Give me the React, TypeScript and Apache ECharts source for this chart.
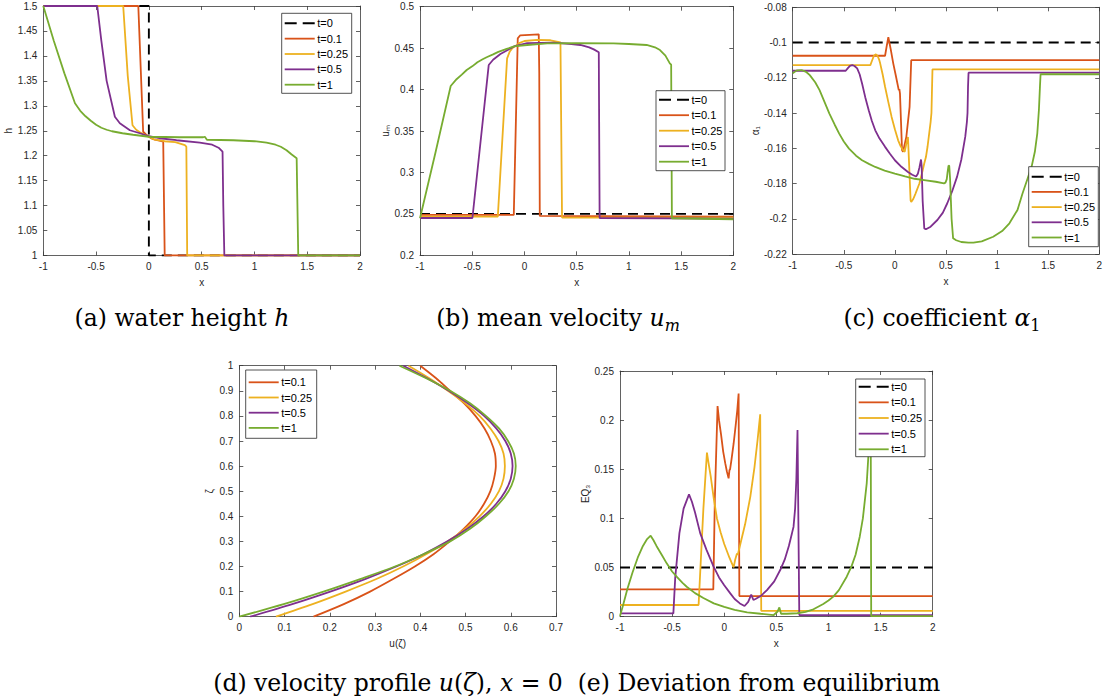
import { useEffect, useRef } from "react";
import * as echarts from "echarts";

// ---------- series names / colours ----------
const COLORS: Record<string, string> = {
  "t=0": "#000000",
  "t=0.1": "#D95319",
  "t=0.25": "#EDB120",
  "t=0.5": "#7E2F8E",
  "t=1": "#77AC30",
};

// ---------- (a) water height h ----------
const H_T0 = [[-1, 1.5], [0, 1.5], [0, 1], [2, 1]];
const H_T01 = [[-1, 1.5], [-0.1, 1.5], [-0.054, 1.248], [-0.03, 1.243], [0, 1.238], [0.03, 1.234], [0.057, 1.232], [0.1, 1.23], [0.136, 1.228], [0.15, 1], [2, 1]];
const H_T025 = [[-1, 1.5], [-0.243, 1.5], [-0.2, 1.36], [-0.155, 1.261], [-0.12, 1.252], [-0.085, 1.247], [-0.04, 1.242], [0, 1.238], [0.057, 1.232], [0.15, 1.229], [0.25, 1.227], [0.341, 1.221], [0.355, 1.218], [0.363, 1], [2, 1]];
const H_T05 = [[-1, 1.5], [-0.489, 1.5], [-0.45, 1.43], [-0.4, 1.35], [-0.322, 1.278], [-0.275, 1.265], [-0.18, 1.251], [-0.085, 1.245], [0, 1.239], [0.1, 1.235], [0.262, 1.231], [0.483, 1.226], [0.6, 1.222], [0.66, 1.216], [0.698, 1.208], [0.705, 1.1], [0.715, 1], [2, 1]];
const H_T1 = [[-1, 1.5], [-0.9, 1.43], [-0.8, 1.365], [-0.7, 1.305], [-0.65, 1.29], [-0.6, 1.279], [-0.55, 1.27], [-0.5, 1.262], [-0.45, 1.256], [-0.4, 1.252], [-0.35, 1.249], [-0.3, 1.247], [-0.25, 1.245], [-0.15, 1.242], [0, 1.238], [0.294, 1.237], [0.515, 1.237], [0.53, 1.238], [0.55, 1.232], [0.8, 1.231], [1.0, 1.229], [1.115, 1.226], [1.2, 1.222], [1.25, 1.218], [1.304, 1.211], [1.35, 1.203], [1.4, 1.195], [1.415, 1], [2, 1]];

// ---------- (b) mean velocity u_m ----------
const U_T0 = [[-1, 0.25], [2, 0.25]];
const U_T01 = [[-1, 0.2487], [-0.102, 0.2487], [-0.064, 0.4618], [-0.04, 0.4655], [0.137, 0.4666], [0.142, 0.42], [0.147, 0.2475], [2, 0.2465]];
const U_T025 = [[-1, 0.2467], [-0.255, 0.2467], [-0.166, 0.4377], [-0.14, 0.446], [-0.118, 0.4497], [-0.05, 0.456], [0, 0.4586], [0.121, 0.46], [0.25, 0.4595], [0.345, 0.457], [0.36, 0.2455], [2, 0.2455]];
const U_T05 = [[-1, 0.245], [-0.498, 0.245], [-0.342, 0.4296], [-0.3, 0.436], [-0.23, 0.443], [-0.1, 0.452], [0.026, 0.456], [0.28, 0.4566], [0.45, 0.455], [0.536, 0.4538], [0.62, 0.451], [0.664, 0.4485], [0.712, 0.445], [0.72, 0.245], [2, 0.2443]];
const U_T1 = [[-1, 0.2447], [-0.85, 0.325], [-0.706, 0.4043], [-0.65, 0.4125], [-0.6, 0.418], [-0.553, 0.4236], [-0.5, 0.428], [-0.45, 0.433], [-0.4, 0.4365], [-0.362, 0.439], [-0.3, 0.4425], [-0.25, 0.4455], [-0.17, 0.449], [-0.1, 0.452], [0, 0.4535], [0.217, 0.4558], [0.5, 0.456], [0.853, 0.4558], [1.0, 0.455], [1.17, 0.4538], [1.25, 0.451], [1.298, 0.4477], [1.35, 0.441], [1.392, 0.4316], [1.405, 0.43], [1.412, 0.2447], [2, 0.2435]];

// ---------- (c) coefficient alpha_1 ----------
const A_T0 = [[-1, -0.1], [2, -0.1]];
const A_T01 = [[-1, -0.1075], [-0.096, -0.1075], [-0.08, -0.102], [-0.064, -0.097], [-0.04, -0.104], [-0.016, -0.1118], [0.01, -0.119], [0.038, -0.127], [0.044, -0.1265], [0.05, -0.129], [0.06, -0.145], [0.07, -0.161], [0.08, -0.162], [0.112, -0.1536], [0.144, -0.1365], [0.16, -0.11], [2, -0.11]];
const A_T025 = [[-1, -0.1128], [-0.24, -0.1128], [-0.225, -0.1105], [-0.205, -0.1075], [-0.186, -0.1067], [-0.17, -0.1075], [-0.155, -0.1095], [-0.144, -0.1118], [-0.12, -0.118], [-0.096, -0.1251], [-0.064, -0.1338], [-0.032, -0.1422], [0, -0.1492], [0.032, -0.1555], [0.056, -0.1588], [0.08, -0.1611], [0.096, -0.162], [0.11, -0.158], [0.128, -0.1536], [0.14, -0.17], [0.154, -0.1896], [0.16, -0.1905], [0.18, -0.1888], [0.2, -0.186], [0.24, -0.18], [0.27, -0.173], [0.288, -0.1685], [0.304, -0.165], [0.32, -0.159], [0.336, -0.1515], [0.35, -0.145], [0.358, -0.14], [0.362, -0.13], [0.368, -0.1152], [2, -0.1152]];
const A_T05 = [[-1, -0.116], [-0.481, -0.116], [-0.46, -0.1145], [-0.44, -0.1132], [-0.417, -0.1128], [-0.395, -0.1133], [-0.369, -0.1147], [-0.345, -0.118], [-0.321, -0.1232], [-0.29, -0.131], [-0.256, -0.1384], [-0.225, -0.1445], [-0.192, -0.1498], [-0.15, -0.1545], [-0.096, -0.1592], [-0.05, -0.163], [0, -0.1668], [0.064, -0.1705], [0.128, -0.1735], [0.17, -0.175], [0.208, -0.176], [0.225, -0.1745], [0.24, -0.171], [0.256, -0.1664], [0.262, -0.17], [0.272, -0.19], [0.288, -0.2055], [0.304, -0.206], [0.35, -0.2045], [0.416, -0.2007], [0.47, -0.1965], [0.513, -0.1912], [0.56, -0.1845], [0.609, -0.1761], [0.65, -0.1665], [0.689, -0.1534], [0.705, -0.145], [0.711, -0.14], [0.716, -0.125], [0.721, -0.1171], [2, -0.1171]];
const A_T1 = [[-1, -0.1175], [-0.96, -0.1158], [-0.913, -0.1156], [-0.87, -0.1166], [-0.833, -0.1185], [-0.78, -0.1225], [-0.737, -0.127], [-0.69, -0.1335], [-0.641, -0.1403], [-0.59, -0.1465], [-0.545, -0.1517], [-0.5, -0.1562], [-0.449, -0.1602], [-0.38, -0.1642], [-0.321, -0.1668], [-0.25, -0.169], [-0.192, -0.1706], [-0.1, -0.1727], [0, -0.1744], [0.1, -0.176], [0.192, -0.1773], [0.304, -0.1782], [0.4, -0.179], [0.481, -0.1799], [0.495, -0.1795], [0.508, -0.1775], [0.516, -0.1735], [0.525, -0.1698], [0.532, -0.17], [0.54, -0.177], [0.555, -0.2], [0.57, -0.2111], [0.6, -0.2122], [0.65, -0.2132], [0.72, -0.2136], [0.769, -0.2136], [0.85, -0.2128], [0.962, -0.2102], [1.05, -0.207], [1.121, -0.2026], [1.2, -0.195], [1.25, -0.1855], [1.3, -0.177], [1.34, -0.17], [1.37, -0.162], [1.394, -0.1515], [1.41, -0.138], [1.42, -0.125], [1.426, -0.118], [2, -0.118]];

// ---------- (d) velocity profile u(zeta), pairs [u, zeta] ----------
const P_T01 = [[0.164, 0], [0.231, 0.05], [0.289, 0.1], [0.34, 0.15], [0.388, 0.2], [0.43, 0.25], [0.465, 0.3], [0.496, 0.35], [0.522, 0.4], [0.541, 0.45], [0.555, 0.5], [0.563, 0.55], [0.567, 0.6], [0.565, 0.65], [0.556, 0.7], [0.542, 0.75], [0.522, 0.8], [0.497, 0.85], [0.466, 0.9], [0.435, 0.95], [0.4, 1]];
const P_T025 = [[0.081, 0], [0.162, 0.05], [0.235, 0.1], [0.303, 0.15], [0.362, 0.2], [0.414, 0.25], [0.46, 0.3], [0.499, 0.35], [0.531, 0.4], [0.556, 0.45], [0.574, 0.5], [0.584, 0.55], [0.587, 0.6], [0.584, 0.65], [0.573, 0.7], [0.555, 0.75], [0.531, 0.8], [0.499, 0.85], [0.461, 0.9], [0.42, 0.95], [0.374, 1]];
const P_T05 = [[0.024, 0], [0.117, 0.05], [0.201, 0.1], [0.278, 0.15], [0.347, 0.2], [0.408, 0.25], [0.46, 0.3], [0.504, 0.35], [0.54, 0.4], [0.568, 0.45], [0.588, 0.5], [0.6, 0.55], [0.604, 0.6], [0.6, 0.65], [0.588, 0.7], [0.568, 0.75], [0.541, 0.8], [0.505, 0.85], [0.463, 0.9], [0.415, 0.95], [0.3625, 1]];
const P_T1 = [[0, 0], [0.098, 0.05], [0.186, 0.1], [0.267, 0.15], [0.344, 0.2], [0.408, 0.25], [0.466, 0.3], [0.51, 0.35], [0.545, 0.4], [0.574, 0.45], [0.595, 0.5], [0.607, 0.55], [0.611, 0.6], [0.607, 0.65], [0.594, 0.7], [0.574, 0.75], [0.545, 0.8], [0.51, 0.85], [0.466, 0.9], [0.413, 0.95], [0.354, 1]];

// ---------- (e) deviation from equilibrium EQ_3 ----------
const E_T0 = [[-1, 0.05], [2, 0.05]];
const E_T01 = [[-1, 0.0278], [-0.105, 0.0278], [-0.09, 0.12], [-0.064, 0.2144], [-0.05, 0.2], [-0.03, 0.185], [-0.01, 0.168], [0.01, 0.156], [0.025, 0.148], [0.042, 0.1408], [0.05, 0.149], [0.056, 0.15], [0.07, 0.16], [0.09, 0.176], [0.11, 0.195], [0.125, 0.21], [0.138, 0.227], [0.145, 0.021], [2, 0.021]];
const E_T025 = [[-1, 0.0119], [-0.246, 0.0119], [-0.2, 0.11], [-0.166, 0.167], [-0.15, 0.156], [-0.13, 0.143], [-0.1, 0.12], [-0.07, 0.1], [-0.035, 0.086], [0, 0.074], [0.05, 0.06], [0.09, 0.0502], [0.105, 0.058], [0.122, 0.0644], [0.13, 0.063], [0.15, 0.072], [0.2, 0.094], [0.25, 0.122], [0.29, 0.152], [0.32, 0.18], [0.345, 0.206], [0.355, 0.006], [2, 0.006]];
const E_T05 = [[-1, 0.0034], [-0.488, 0.0034], [-0.47, 0.04], [-0.43, 0.085], [-0.39, 0.11], [-0.338, 0.1245], [-0.31, 0.117], [-0.28, 0.106], [-0.23, 0.0848], [-0.17, 0.068], [-0.102, 0.0509], [-0.05, 0.04], [0, 0.032], [0.058, 0.0237], [0.1, 0.018], [0.15, 0.0135], [0.195, 0.0109], [0.23, 0.015], [0.259, 0.0224], [0.28, 0.017], [0.3, 0.018], [0.35, 0.021], [0.41, 0.027], [0.48, 0.036], [0.537, 0.0475], [0.58, 0.058], [0.62, 0.072], [0.65, 0.085], [0.665, 0.0916], [0.68, 0.11], [0.692, 0.14], [0.703, 0.19], [0.72, 0.0017], [2, 0.0015]];
const E_T1 = [[-1, 0.0007], [-0.97, 0.012], [-0.93, 0.028], [-0.88, 0.045], [-0.83, 0.06], [-0.78, 0.072], [-0.74, 0.079], [-0.706, 0.0824], [-0.68, 0.078], [-0.65, 0.072], [-0.6, 0.063], [-0.552, 0.0543], [-0.5, 0.046], [-0.45, 0.04], [-0.4, 0.0345], [-0.36, 0.0305], [-0.28, 0.024], [-0.2, 0.019], [-0.1, 0.0136], [0, 0.01], [0.1, 0.007], [0.22, 0.0044], [0.35, 0.003], [0.475, 0.0017], [0.51, 0.005], [0.529, 0.0095], [0.545, 0.003], [0.6, 0.003], [0.7, 0.0035], [0.78, 0.005], [0.856, 0.0075], [0.95, 0.013], [1.0, 0.0165], [1.047, 0.0204], [1.1, 0.027], [1.175, 0.0407], [1.22, 0.051], [1.26, 0.063], [1.3, 0.0814], [1.33, 0.1], [1.367, 0.1357], [1.39, 0.176], [1.405, 0.21], [1.41, 0.0005], [2, 0.0005]];

// ---------- captions / axis names ----------
const CAPTIONS = [
  "{n|(a) water height }{i|h}",
  "{n|(b) mean velocity }{i|u}{si|m}",
  "{n|(c) coefficient }{i|α}{s|1}",
  "{n|(d) velocity profile }{i|u}{n|(}{i|ζ}{n|), }{i|x}{n| = 0}",
  "{n|(e) Deviation from equilibrium}",
];
const X_NAMES = ["x", "x", "x", "u(ζ)", "x"];
const Y_NAMES = ["h", "uₘ", "α₁", "ζ", "EQ₃"];

const FONT = "'Liberation Sans', Arial, Helvetica, sans-serif";
const SERIF = "'DejaVu Serif', serif";
const AXIS_COLOR = "#3a3a3a";
const CAP_SIZE = 23.5;

type Panel = {
  grid: { left: number; top: number; width: number; height: number };
  x: [number, number, number];
  y: [number, number, number];
  series: [string, number[][]][];
  legend: { x: number; y: number; w: number; h: number; first: number; step: number };
  caption: { x: number; y: number };
  yNameGap: number;
  smooth: boolean;
};

const PANELS: Panel[] = [
  {
    grid: { left: 43.3, top: 6, width: 316.7, height: 249.5 },
    x: [-1, 2, 0.5], y: [1, 1.5, 0.05],
    series: [["t=0", H_T0], ["t=0.1", H_T01], ["t=0.25", H_T025], ["t=0.5", H_T05], ["t=1", H_T1]],
    legend: { x: 281.7, y: 13.3, w: 70, h: 80, first: 10, step: 15.35 },
    caption: { x: 182, y: 318 },
    yNameGap: 22,
    smooth: false,
  },
  {
    grid: { left: 420, top: 6.7, width: 313.3, height: 248.6 },
    x: [-1, 2, 0.5], y: [0.2, 0.5, 0.05],
    series: [["t=0", U_T0], ["t=0.1", U_T01], ["t=0.25", U_T025], ["t=0.5", U_T05], ["t=1", U_T1]],
    legend: { x: 656, y: 90.7, w: 69, h: 80, first: 9, step: 15.5 },
    caption: { x: 558, y: 318 },
    yNameGap: 25,
    smooth: false,
  },
  {
    grid: { left: 792.7, top: 7.3, width: 312, height: 246.7 },
    x: [-1, 2, 0.5], y: [-0.22, -0.08, 0.02],
    series: [["t=0", A_T0], ["t=0.1", A_T01], ["t=0.25", A_T025], ["t=0.5", A_T05], ["t=1", A_T1]],
    legend: { x: 1028.7, y: 166.7, w: 69.6, h: 80, first: 10, step: 15.2 },
    caption: { x: 942, y: 318 },
    yNameGap: 27,
    smooth: false,
  },
  {
    grid: { left: 239.3, top: 365.7, width: 316.7, height: 251 },
    x: [0, 0.7, 0.1], y: [0, 1, 0.1],
    series: [["t=0.1", P_T01], ["t=0.25", P_T025], ["t=0.5", P_T05], ["t=1", P_T1]],
    legend: { x: 245.7, y: 370, w: 71, h: 68.3, first: 12.3, step: 15.2 },
    caption: { x: 388, y: 683 },
    yNameGap: 25,
    smooth: true,
  },
  {
    grid: { left: 620, top: 371, width: 312.7, height: 245.7 },
    x: [-1, 2, 0.5], y: [0, 0.25, 0.05],
    series: [["t=0", E_T0], ["t=0.1", E_T01], ["t=0.25", E_T025], ["t=0.5", E_T05], ["t=1", E_T1]],
    legend: { x: 855.7, y: 379, w: 69.3, h: 77.7, first: 7.7, step: 15.65 },
    caption: { x: 759, y: 683 },
    yNameGap: 28,
    smooth: false,
  },
];

function buildOption() {
  const grids: any[] = [];
  const xAxes: any[] = [];
  const yAxes: any[] = [];
  const series: any[] = [];
  const graphics: any[] = [];

  const lineCommon = { show: true, onZero: false, lineStyle: { color: AXIS_COLOR, width: 0.8 } };
  const tickCommon = { show: true, inside: true, length: 4, lineStyle: { color: AXIS_COLOR, width: 0.8 } };
  const labelCommon = { color: "#262626", fontSize: 10, fontFamily: FONT };
  const nameStyle = { color: "#262626", fontSize: 10, fontFamily: FONT };

  PANELS.forEach((p, i) => {
    grids.push({ ...p.grid, containLabel: false, show: false });
    const xBase = { type: "value", gridIndex: i, min: p.x[0], max: p.x[1], interval: p.x[2], splitLine: { show: false }, axisLine: lineCommon, axisTick: tickCommon };
    const yBase = { type: "value", gridIndex: i, min: p.y[0], max: p.y[1], interval: p.y[2], splitLine: { show: false }, axisLine: lineCommon, axisTick: tickCommon };
    xAxes.push({
      ...xBase, position: "bottom",
      axisLabel: { ...labelCommon, margin: 6, showMinLabel: true, showMaxLabel: true },
      name: X_NAMES[i], nameLocation: "middle", nameGap: 22, nameTextStyle: nameStyle,
    });
    xAxes.push({ ...xBase, position: "top", axisLabel: { show: false } });
    yAxes.push({
      ...yBase, position: "left",
      axisLabel: { ...labelCommon, margin: 6, showMinLabel: true, showMaxLabel: true },
      name: Y_NAMES[i], nameLocation: "middle", nameGap: p.yNameGap, nameTextStyle: nameStyle,
    });
    yAxes.push({ ...yBase, position: "right", axisLabel: { show: false } });

    p.series.forEach(([name, data]) => {
      const dashed = name === "t=0";
      const s: any = {
        type: "line", name, xAxisIndex: 2 * i, yAxisIndex: 2 * i, data,
        symbol: "none", showSymbol: false, silent: true, clip: true,
        lineStyle: { color: COLORS[name], width: dashed ? 1.9 : 1.8, type: dashed ? [10, 6] : "solid" },
        itemStyle: { color: COLORS[name] },
      };
      if (p.smooth) s.smooth = 0.3;
      series.push(s);
    });

    // legend box
    const L = p.legend;
    graphics.push({
      type: "rect", z: 100, silent: true,
      shape: { x: L.x, y: L.y, width: L.w, height: L.h },
      style: { fill: "#ffffff", stroke: "#262626", lineWidth: 0.8 },
    });
    p.series.forEach(([name], k) => {
      const cy = L.y + L.first + k * L.step;
      const dashed = name === "t=0";
      const st: any = { stroke: COLORS[name], lineWidth: dashed ? 1.9 : 1.8 };
      if (dashed) st.lineDash = [12, 6];
      graphics.push({ type: "line", z: 101, silent: true, shape: { x1: L.x + 3, y1: cy, x2: L.x + 33, y2: cy }, style: st });
      graphics.push({
        type: "text", z: 101, silent: true, x: L.x + 35.5, y: cy,
        style: { text: name, fontSize: 11, fontFamily: FONT, fill: "#000", verticalAlign: "middle", align: "left" },
      });
    });

    // caption
    graphics.push({
      type: "text", z: 101, silent: true, x: p.caption.x, y: p.caption.y,
      style: {
        text: CAPTIONS[i], align: "center", verticalAlign: "middle", fill: "#000",
        fontFamily: SERIF, fontSize: CAP_SIZE,
        rich: {
          n: { fontFamily: SERIF, fontSize: CAP_SIZE, fill: "#000", lineHeight: 30 },
          i: { fontFamily: SERIF, fontSize: CAP_SIZE, fontStyle: "italic", fill: "#000", lineHeight: 30 },
          s: { fontFamily: SERIF, fontSize: 16, fill: "#000", lineHeight: 20, verticalAlign: "bottom" },
          si: { fontFamily: SERIF, fontSize: 16, fontStyle: "italic", fill: "#000", lineHeight: 20, verticalAlign: "bottom" },
        },
      },
    });
  });

  return {
    animation: false,
    backgroundColor: "#ffffff",
    grid: grids,
    xAxis: xAxes,
    yAxis: yAxes,
    series,
    graphic: graphics,
  };
}

export default function App() {
  const ref = useRef<HTMLDivElement>(null);
  useEffect(() => {
    if (!ref.current) return;
    const chart = echarts.init(ref.current, null, { renderer: "svg", width: 1105, height: 700 });
    chart.setOption(buildOption() as any);
    return () => chart.dispose();
  }, []);
  return (
    <div
      ref={ref}
      style={{ position: "fixed", left: 0, top: 0, width: 1105, height: 700, overflow: "hidden", background: "#fff" }}
    />
  );
}
